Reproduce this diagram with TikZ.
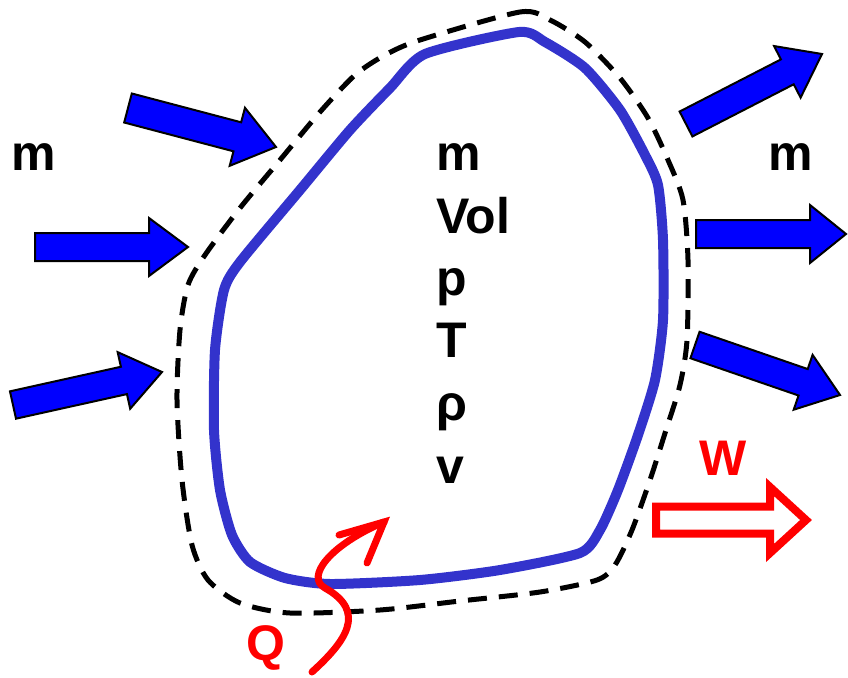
\documentclass[tikz,border=0pt]{standalone}
\usepackage{fontspec}
\setmainfont{Liberation Sans}
\usetikzlibrary{calc}
\newcommand\blockarrow[7]{% name, tail, tip, style, shaft half, head half, head length
  \coordinate (#1t) at #2;
  \coordinate (#1h) at #3;
  \coordinate (#1b) at ($(#1h)!#7pt!(#1t)$);
  \draw[#4] ($(#1t)!#5pt!90:(#1h)$) -- ($(#1b)!#5pt!90:(#1h)$) -- ($(#1b)!#6pt!90:(#1h)$)
    -- (#1h) -- ($(#1b)!#6pt!-90:(#1h)$) -- ($(#1b)!#5pt!-90:(#1h)$) -- ($(#1t)!#5pt!-90:(#1h)$) -- cycle;
}
\begin{document}
\begin{tikzpicture}[x=1pt,y=-1pt,
  flow/.style={fill={rgb,255:red,0;green,0;blue,255},draw=black,line width=2pt,line join=miter},
  work/.style={fill=white,draw={rgb,255:red,255;green,0;blue,0},line width=8pt,line join=miter},
  bigtxt/.style={font=\fontsize{50}{58}\selectfont\bfseries,inner sep=0pt,anchor=base west},
  redtxt/.style={font=\fontsize{50}{58}\selectfont\bfseries,inner sep=0pt,text={rgb,255:red,255;green,0;blue,0}},
  sysline/.style={draw={rgb,255:red,51;green,51;blue,204},line width=10pt,line join=round},
  cvline/.style={draw=black,line width=5pt,dash pattern=on 19pt off 12pt}]
\useasboundingbox (0,0) rectangle (848,677);
% control volume (dashed)
\draw[cvline] plot[smooth cycle,tension=0.45] coordinates {
 (420,40) (520,12) (550,20) (585,42) (620,78) (648,118) (668,160) (683,200) (688,260)
 (687,340) (680,385) (666,430) (650,480) (632,530) (615,565) (597,580) (540,592)
 (460,601) (380,610) (290,613) (240,603) (208,580) (192,545) (182,480) (177,400)
 (180,330) (188,285) (205,255) (240,208) (280,160) (320,112) (355,75) (385,55)};
% system boundary (blue)
\draw[sysline] plot[smooth cycle,tension=0.4] coordinates {
 (425,54) (519,32) (545,42) (585,68) (620,110) (645,155) (658,185) (663,240) (663,320)
 (655,380) (638,435) (618,490) (600,530) (580,553) (500,570) (420,580) (330,584)
 (285,578) (250,562) (232,535) (220,490) (214,430) (215,350) (224,290) (240,262)
 (300,190) (350,130) (390,88)};
% inflow arrows
\blockarrow{a1}{(128,108)}{(276,147)}{flow}{15}{30}{40}
\blockarrow{a2}{(35,247)}{(188,247)}{flow}{14}{29}{39}
\blockarrow{a3}{(13,405)}{(162,372)}{flow}{14}{29}{39}
% outflow arrows
\blockarrow{a4}{(686,124)}{(822,54)}{flow}{14}{29}{39}
\blockarrow{a5}{(696,234)}{(846,234)}{flow}{14}{29}{36}
\blockarrow{a6}{(695,345)}{(840,395)}{flow}{14}{29}{39}
% work arrow
\blockarrow{w}{(656,520)}{(806,520)}{work}{13.5}{33}{36}
% heat squiggle
\draw[draw={rgb,255:red,255;green,0;blue,0},line width=7pt,line cap=round,line join=round]
  (312,672) .. controls (345,642) and (368,612) .. (325,588)
  .. controls (305,577) and (330,545) .. (384,522);
\draw[draw={rgb,255:red,255;green,0;blue,0},line width=7pt,line cap=round,line join=miter]
  (339,535) -- (384,522) -- (367,563);
% labels
\node[bigtxt] (min) at (11,170) {m};
\node[bigtxt] (mout) at (768,170) {m};
\node[bigtxt] (t1) at (436,170) {m};
\node[bigtxt] (t2) at (436,233) {Vol};
\node[bigtxt] (t3) at (436,295) {p};
\node[bigtxt] (t4) at (436,357) {T};
\node[bigtxt] (t5) at (436,420) {ρ};
\node[bigtxt] (t6) at (436,483) {v};
\node[redtxt] (wl) at (723,458) {W};
\node[redtxt] (ql) at (266,648) {Q};
\end{tikzpicture}
\end{document}
